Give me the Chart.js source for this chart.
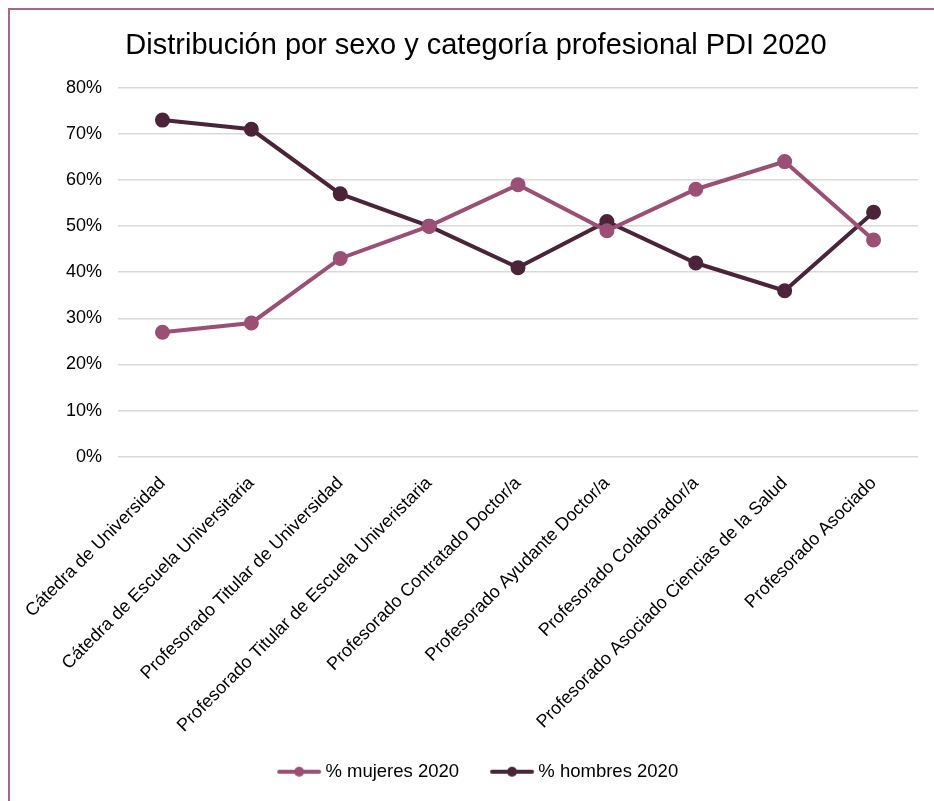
<!DOCTYPE html>
<html lang="es">
<head>
    <meta charset="UTF-8">
    <title>Distribución por sexo y categoría profesional PDI 2020</title>
    <script src="https://cdn.jsdelivr.net/npm/chart.js"></script>
    <style>
        html, body { margin: 0; padding: 0; background: #fff; overflow: hidden; }
        .frame {
            position: absolute;
            left: 8px;
            top: 8px;
            width: 940px;
            height: 800px;
            border-left: 2px solid #a8668a;
            border-top: 2px solid #a8668a;
        }
        .chart-box { position: absolute; left: 0; top: 0; width: 924px; height: 791px; }
    </style>
</head>
<body>
    <div class="frame">
        <div class="chart-box"><canvas id="pdiChart"></canvas></div>
    </div>

    <script>
        const categories = [
            'Cátedra de Universidad',
            'Cátedra de Escuela Universitaria',
            'Profesorado Titular de Universidad',
            'Profesorado Titular de Escuela Univeristaria',
            'Profesorado Contratado Doctor/a',
            'Profesorado Ayudante Doctor/a',
            'Profesorado Colaborador/a',
            'Profesorado Asociado Ciencias de la Salud',
            'Profesorado Asociado'
        ];
        const mujeres2020 = [27, 29, 43, 50, 59, 49, 58, 64, 47];
        const hombres2020 = [73, 71, 57, 50, 41, 51, 42, 36, 53];

        const colorMujeres = '#9b4f74';
        const colorHombres = '#4b2439';
        const fontFamily = 'Liberation Sans';

        // legend marker: line with a dot, drawn in the right part of the image
        // so it sits close to the label text
        const markerSlot = 52;
        function legendMarker(color) {
            const c = document.createElement('canvas');
            c.width = markerSlot + 12; c.height = 12;
            const g = c.getContext('2d');
            const x0 = c.width - 45, x1 = c.width - 1;
            g.strokeStyle = color;
            g.lineWidth = 4;
            g.lineCap = 'round';
            g.beginPath(); g.moveTo(x0 + 2, 6); g.lineTo(x1 - 2, 6); g.stroke();
            g.fillStyle = color;
            g.beginPath(); g.arc((x0 + x1) / 2, 6, 5, 0, Math.PI * 2); g.fill();
            return c;
        }

        const ctx = document.getElementById('pdiChart').getContext('2d');
        new Chart(ctx, {
            type: 'line',
            data: {
                labels: categories,
                datasets: [
                    { label: '% mujeres 2020', data: mujeres2020, borderColor: colorMujeres, backgroundColor: colorMujeres,
                      borderWidth: 4, pointRadius: 5.5, pointHoverRadius: 5.5, pointStyle: 'circle', tension: 0,
                      legendMarker: legendMarker(colorMujeres) },
                    { label: '% hombres 2020', data: hombres2020, borderColor: colorHombres, backgroundColor: colorHombres,
                      borderWidth: 4, pointRadius: 5.5, pointHoverRadius: 5.5, pointStyle: 'circle', tension: 0,
                      legendMarker: legendMarker(colorHombres) }
                ]
            },
            options: {
                responsive: true,
                maintainAspectRatio: false,
                animation: false,
                layout: { padding: { left: 40, right: 16, top: 2, bottom: 10 } },
                plugins: {
                    title: {
                        display: true,
                        // two trailing spaces shift the centred title slightly left
                        text: 'Distribución por sexo y categoría profesional PDI 2020\u00a0\u00a0',
                        color: '#000',
                        font: { family: fontFamily, size: 29, weight: 'normal' },
                        padding: { top: 17, bottom: 24 }
                    },
                    legend: {
                        position: 'bottom',
                        labels: {
                            color: '#000',
                            font: { family: fontFamily, size: 18.5 },
                            usePointStyle: true,
                            pointStyleWidth: markerSlot,
                            padding: 18,
                            // trailing spaces on the last entry nudge the centred block left
                            generateLabels: chart => chart.data.datasets.map((ds, i, all) => ({
                                text: i === all.length - 1 ? ds.label + '\u00a0\u00a0\u00a0\u00a0\u00a0' : ds.label,
                                pointStyle: ds.legendMarker,
                                fillStyle: ds.borderColor,
                                strokeStyle: ds.borderColor,
                                lineWidth: 0,
                                datasetIndex: i
                            }))
                        }
                    },
                    tooltip: { enabled: false }
                },
                scales: {
                    y: {
                        min: 0,
                        max: 80,
                        ticks: {
                            stepSize: 10,
                            color: '#000',
                            padding: 16,
                            font: { family: fontFamily, size: 18 },
                            callback: v => v + '%'
                        },
                        grid: { color: '#d9d9d9', lineWidth: 1.5, drawTicks: false },
                        border: { display: false }
                    },
                    x: {
                        offset: true,
                        ticks: {
                            color: '#000',
                            minRotation: 45,
                            maxRotation: 45,
                            autoSkip: false,
                            padding: 8,
                            font: { family: fontFamily, size: 18 }
                        },
                        grid: { display: false },
                        border: { display: false }
                    }
                }
            }
        });
    </script>
</body>
</html>
